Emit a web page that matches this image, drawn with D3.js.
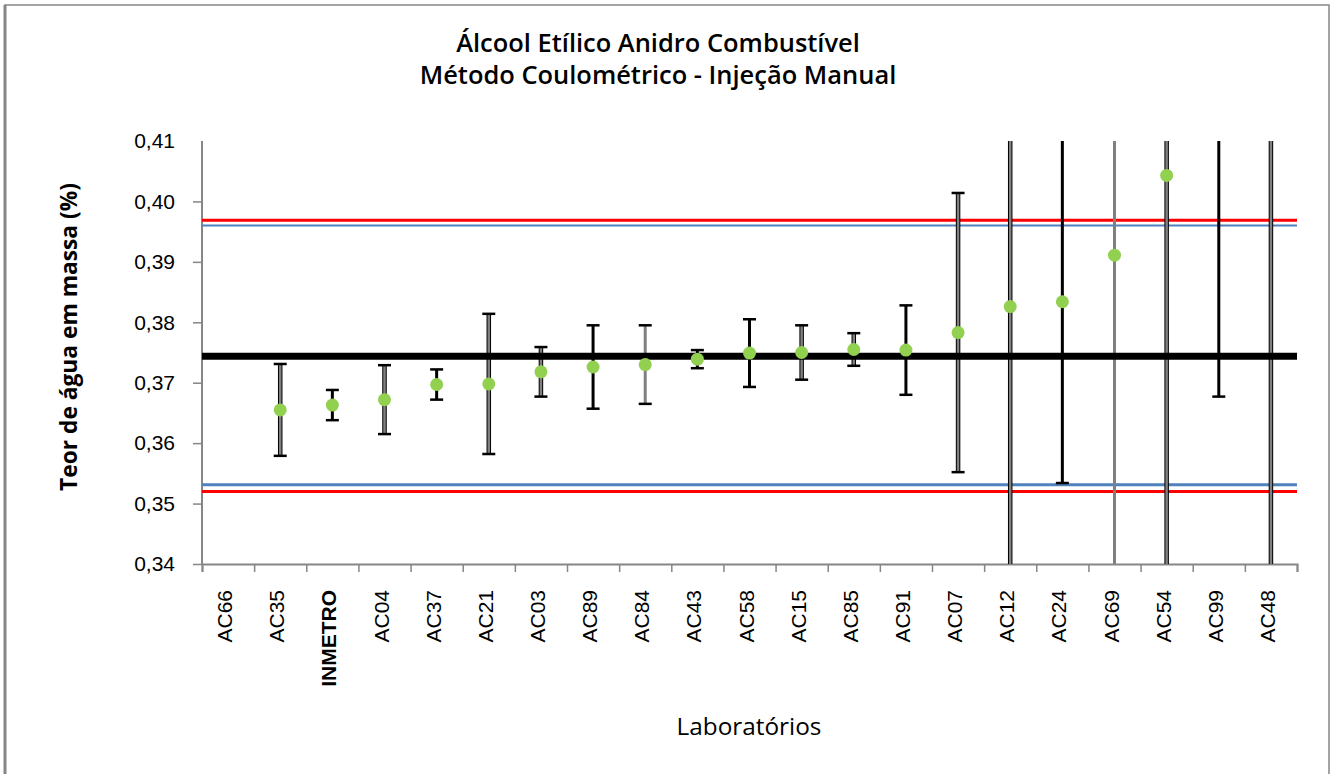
<!DOCTYPE html>
<html lang="pt">
<head>
<meta charset="UTF-8">
<title>Álcool Etílico Anidro Combustível</title>
<script src="https://d3js.org/d3.v7.min.js"></script>
<style>
  body { margin: 0; background: #fff; }
  svg { display: block; }
  .tick text { font-family: "Liberation Sans", Arial, sans-serif; font-size: 21px; fill: #000; }
  .title, .label { font-family: "Open Sans", "Noto Sans", sans-serif; fill: #000; }
</style>
</head>
<body>
<svg id="chart" width="1336" height="774"></svg>
<script>
// laboratories in plotted order
const labs = ["AC66", "AC35", "INMETRO", "AC04", "AC37", "AC21", "AC03", "AC89", "AC84", "AC43",
  "AC58", "AC15", "AC85", "AC91", "AC07", "AC12", "AC24", "AC69", "AC54", "AC99", "AC48"];
// water content (% mass), null = not reported
const values = [null, 0.3655, 0.3663, 0.3672, 0.3697, 0.3698, 0.3718, 0.3726, 0.3730, 0.3739,
  0.3749, 0.3750, 0.3755, 0.3754, 0.3783, 0.3826, 0.3834, 0.3911, 0.4043, 0.4200, 0.4250];
// expanded uncertainty (error bar half length)
const uncert = [null, 0.0076, 0.0025, 0.0057, 0.0025, 0.0116, 0.0041, 0.0069, 0.0065, 0.0015,
  0.0056, 0.0045, 0.0027, 0.0074, 0.0231, 0.0500, 0.0300, 0.0600, 0.0700, 0.0523, 0.1000];

const consensus = 0.3744;
const redLimits = [0.3520, 0.3969];
const blueLimits = [0.3531, 0.3960];
const yTicks = [0.34, 0.35, 0.36, 0.37, 0.38, 0.39, 0.40, 0.41];
const titleLines = ["Álcool Etílico Anidro Combustível", "Método Coulométrico - Injeção Manual"];

// look of each error bar line: k = black, g = grey with black edges, p = plain grey
const barLook = { AC35: "g", AC04: "g", AC21: "g", AC03: "g", AC84: "p", AC15: "g", AC85: "g",
  AC07: "g", AC12: "g", AC69: "p", AC54: "g", AC48: "g" };

const svg = d3.select("#chart");
const pLeft = 202, pRight = 1297, pTop = 141, pBottom = 564;

// outer frame
svg.append("rect").attr("x", 5).attr("y", 5).attr("width", 1324).attr("height", 800)
  .attr("fill", "none").attr("stroke", "#868686").attr("stroke-width", 1.5);
svg.append("line").attr("x1", 5).attr("x2", 5).attr("y1", 5).attr("y2", 774)
  .attr("stroke", "#868686").attr("stroke-width", 3);

const x = d3.scaleBand().domain(labs).range([pLeft, pRight]);
const xi = d3.scaleLinear().domain([0, labs.length]).range([pLeft, pRight]);
const y = d3.scaleLinear().domain([0.34, 0.41]).range([pBottom, pTop]);

const pt = d3.formatLocale({ decimal: ",", thousands: ".", grouping: [3], currency: ["", ""] });
const fmt = pt.format(".2f");

svg.append("defs").append("clipPath").attr("id", "plot")
  .append("rect").attr("x", pLeft).attr("y", pTop).attr("width", pRight - pLeft).attr("height", pBottom - pTop);

// y axis
const yAxis = svg.append("g")
  .attr("transform", `translate(${pLeft},0)`)
  .call(d3.axisLeft(y).tickValues(yTicks).tickFormat(fmt).tickSize(9).tickPadding(18));
yAxis.select(".domain").attr("stroke", "#868686").attr("stroke-width", 2).attr("d", `M0,${pTop}V${pBottom}`);
yAxis.selectAll(".tick line").attr("stroke", "#868686").attr("stroke-width", 1.5)
  .filter(d => d === 0.41).remove();
yAxis.selectAll(".tick text").attr("font-size", 22);

// x axis: ticks on category boundaries
const xAxis = svg.append("g")
  .attr("transform", `translate(0,${pBottom})`)
  .call(d3.axisBottom(xi).tickValues(d3.range(labs.length + 1)).tickFormat("").tickSize(8));
xAxis.select(".domain").attr("stroke", "#868686").attr("stroke-width", 2);
xAxis.selectAll(".tick line").attr("stroke", "#868686").attr("stroke-width", 1.5);

svg.append("g").selectAll("text")
  .data(labs)
  .join("text")
  .attr("transform", d => `translate(${x(d) + x.bandwidth() / 2 + 4},590) rotate(-90)`)
  .attr("text-anchor", "end")
  .attr("font-family", "Liberation Sans, Arial, sans-serif")
  .attr("font-size", 21)
  .attr("font-weight", d => d === "INMETRO" ? "bold" : "normal")
  .text(d => d);

const plot = svg.append("g").attr("clip-path", "url(#plot)");

// reference lines
plot.selectAll(".red").data(redLimits).join("line")
  .attr("x1", pLeft).attr("x2", pRight).attr("y1", d => y(d)).attr("y2", d => y(d))
  .attr("stroke", "#ff0000").attr("stroke-width", 3);
plot.selectAll(".blue").data(blueLimits).join("line")
  .attr("x1", pLeft).attr("x2", pRight).attr("y1", d => y(d)).attr("y2", d => y(d))
  .attr("stroke", "#4f81bd").attr("stroke-width", (d, i) => i === 0 ? 3 : 2);

const rows = labs.map((lab, i) => ({ lab, v: values[i], u: uncert[i] })).filter(d => d.v !== null);
const cx = d => x(d.lab) + x.bandwidth() / 2;

// error bars
const bars = plot.selectAll(".err").data(rows).join("g");
bars.append("line")
  .attr("x1", cx).attr("x2", cx)
  .attr("y1", d => y(d.v + d.u)).attr("y2", d => y(d.v - d.u))
  .attr("stroke", d => barLook[d.lab] === "p" ? "#808080" : "#000")
  .attr("stroke-width", d => barLook[d.lab] === "g" ? 4.5 : 3);
bars.filter(d => barLook[d.lab] === "g").append("line")
  .attr("x1", cx).attr("x2", cx)
  .attr("y1", d => y(d.v + d.u)).attr("y2", d => y(d.v - d.u))
  .attr("stroke", "#808080").attr("stroke-width", 2.5);
[1, -1].forEach(s => {
  bars.append("line")
    .attr("x1", d => cx(d) - 6.5).attr("x2", d => cx(d) + 6.5)
    .attr("y1", d => y(d.v + s * d.u)).attr("y2", d => y(d.v + s * d.u))
    .attr("stroke", "#000").attr("stroke-width", 2.5);
});

// consensus value
plot.append("line")
  .attr("x1", pLeft).attr("x2", pRight).attr("y1", y(consensus)).attr("y2", y(consensus))
  .attr("stroke", "#000").attr("stroke-width", 7);

// lab results
plot.selectAll(".pt").data(rows).join("circle")
  .attr("cx", cx).attr("cy", d => y(d.v)).attr("r", 6.5)
  .attr("fill", "#92d050");

// text, sized to the reference widths
function fitSize(sel, w) {
  const fs = parseFloat(sel.attr("font-size"));
  return fs * w / sel.node().getComputedTextLength();
}

const titles = svg.selectAll(".title").data(titleLines).join("text")
  .attr("class", "title")
  .attr("x", 658).attr("y", (d, i) => 52 + i * 32)
  .attr("text-anchor", "middle").attr("font-weight", 600).attr("font-size", 21)
  .text(d => d);
const widths = [424, 453];
const sizes = titles.nodes().map((n, i) => fitSize(d3.select(n), widths[i]));
titles.attr("font-size", d3.mean(sizes));

const yl = svg.append("text").attr("class", "label")
  .attr("transform", "translate(77,337) rotate(-90)")
  .attr("text-anchor", "middle").attr("font-weight", "bold").attr("font-size", 19)
  .text("Teor de água em massa (%)");
yl.attr("font-size", fitSize(yl, 308));

const xl = svg.append("text").attr("class", "label").attr("x", 749).attr("y", 735)
  .attr("text-anchor", "middle").attr("font-size", 20)
  .text("Laboratórios");
xl.attr("font-size", fitSize(xl, 145));
</script>
</body>
</html>
